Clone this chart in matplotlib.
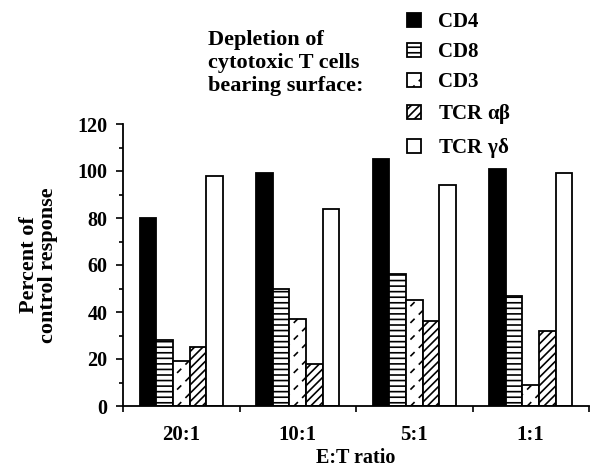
import numpy as np
import matplotlib
matplotlib.use("Agg")
import matplotlib.pyplot as plt
import matplotlib.hatch as mhatch
from matplotlib.path import Path
from matplotlib.ticker import MultipleLocator

# -----------------------------
# Data
# -----------------------------
ratios = ["20:1", "10:1", "5:1", "1:1"]
series = ["CD4", "CD8", "CD3", r"TCR $\alpha\beta$", r"TCR $\gamma\delta$"]

cd4 = [80, 99, 105, 101]
cd8 = [28, 50, 56, 47]
cd3 = [19, 37, 45, 9]
tcr_ab = [25, 18, 36, 32]
tcr_gd = [98, 84, 94, 99]

values = [cd4, cd8, cd3, tcr_ab, tcr_gd]


# -----------------------------
# Short-dash hatch (used for CD3), takes the '*' slot
# -----------------------------
class DashHatch(mhatch.HatchPatternBase):
    def __init__(self, hatch, density):
        self.num = int(hatch.count('*') * density)
        self.num_vertices = self.num * self.num * 2 * 2

    def set_vertices_and_codes(self, vertices, codes):
        n = self.num
        d = 0.09 / n
        k = 0
        for i in range(n):
            for j in range(n):
                for ox, oy in ((0.25, 0.25), (0.75, 0.75)):
                    cx = (i + ox) / n
                    cy = (j + oy) / n
                    vertices[k] = (cx - d, cy - d)
                    vertices[k + 1] = (cx + d, cy + d)
                    codes[k] = Path.MOVETO
                    codes[k + 1] = Path.LINETO
                    k += 2


mhatch._hatch_types[:] = [h for h in mhatch._hatch_types if h is not mhatch.Stars] + [DashHatch]

# -----------------------------
# Style
# -----------------------------
plt.rcParams["font.family"] = ["Liberation Serif", "DejaVu Serif"]
plt.rcParams["font.weight"] = "bold"
plt.rcParams["mathtext.fontset"] = "custom"
plt.rcParams["mathtext.rm"] = "Liberation Serif"
plt.rcParams["mathtext.it"] = "Liberation Serif"
plt.rcParams["hatch.linewidth"] = 1.2

faces = ["black", "white", "white", "white", "white"]
hatches = [None, "---", "*", "////", None]

fig = plt.figure(figsize=(5.91, 4.72), dpi=100)
ax = fig.add_axes([123 / 591, 66 / 472, 466 / 591, 282 / 472])

x = np.arange(len(ratios))
width = 0.143
handles = []
for i, vals in enumerate(values):
    pos = x + 0.5 + (i - 2) * width
    b = ax.bar(pos, vals, width, color=faces[i], edgecolor="black",
               linewidth=1.3, hatch=hatches[i], label=series[i])
    handles.append(b)

ax.set_xlim(0, len(ratios))
ax.set_ylim(0, 120)
ax.yaxis.set_major_locator(MultipleLocator(20))
ax.yaxis.set_minor_locator(MultipleLocator(10))
ax.set_xticks(np.arange(len(ratios) + 1))
ax.set_xticklabels([])
ax.set_xticks(x + 0.5, minor=True)
ax.set_xticklabels(ratios, minor=True, fontsize=15, fontweight="bold")
ax.tick_params(axis="x", which="minor", length=0, pad=14)
ax.tick_params(axis="x", which="major", length=4, width=1.2)
ax.tick_params(axis="y", which="major", length=5, width=1.2, labelsize=14.5, pad=6)
ax.tick_params(axis="y", which="minor", length=3, width=1.2)

for s in ["top", "right"]:
    ax.spines[s].set_visible(False)
for s in ["left", "bottom"]:
    ax.spines[s].set_linewidth(1.3)

ax.set_xlabel("E:T ratio", fontsize=14.5, fontweight="bold", labelpad=2)
ax.set_ylabel("Percent of\ncontrol response", fontsize=16, fontweight="bold",
              labelpad=14, linespacing=0.95)

# -----------------------------
# Legend + title text
# -----------------------------
fig.text(208 / 591, 1 - 30 / 472, "Depletion of\ncytotoxic T cells\nbearing surface:",
         ha="left", va="top", fontsize=16, fontweight="bold", linespacing=1.2)

fig.legend(handles=handles, loc="upper left", bbox_to_anchor=(407 / 591, 1 - 12 / 472),
           frameon=False, fontsize=15, borderpad=0, borderaxespad=0,
           handlelength=0.67, handleheight=0.67, handletextpad=0.8,
           labelspacing=0.48)

plt.savefig("out.png", dpi=100)
